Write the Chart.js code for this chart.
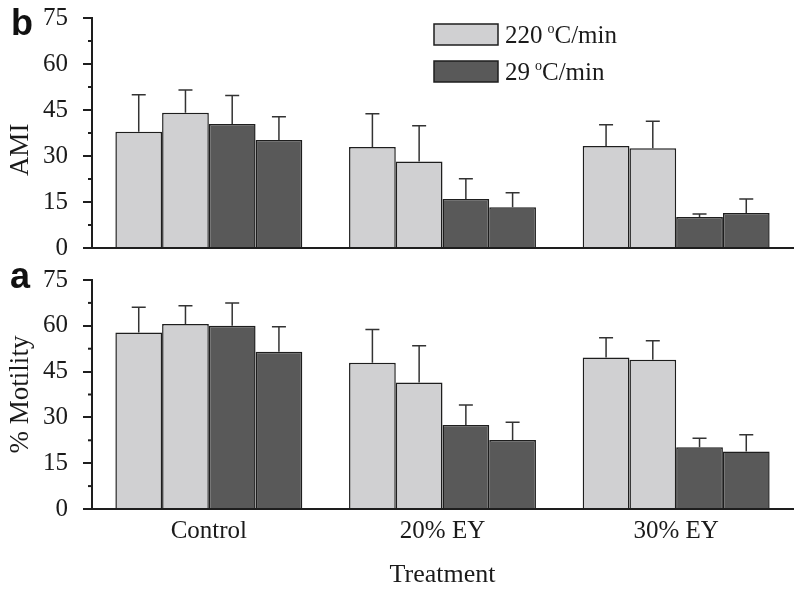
<!DOCTYPE html>
<html>
<head>
<meta charset="utf-8">
<script src="https://cdn.jsdelivr.net/npm/chart.js@4.4.1/dist/chart.umd.min.js"></script>
<style>
  body { margin: 0; background: #fff; }
  #wrap { position: relative; width: 800px; height: 591px; }
  canvas { position: absolute; left: 0; }
  #top { top: 0; }
  #bottom { top: 262px; }
</style>
</head>
<body>
<div id="wrap">
  <canvas id="top" width="800" height="260"></canvas>
  <canvas id="bottom" width="800" height="329"></canvas>
</div>
<script>
const categories = ["Control", "20% EY", "30% EY"];
const seriesLabels = ["220 °C/min", "29 °C/min"];

// panel b: AMI (two bars per cooling rate in each group)
const ami220a = [37.9, 32.9, 33.3];
const ami220b = [44.1, 28.2, 32.5];
const ami29a = [40.4, 16.0, 10.1];
const ami29b = [35.2, 13.3, 11.4];
const amiErr220a = [12.1, 10.9, 6.9];
const amiErr220b = [7.4, 11.7, 8.8];
const amiErr29a = [9.3, 6.6, 1.0];
const amiErr29b = [7.6, 4.7, 4.6];

// panel a: % motility
const mot220a = [57.8, 47.9, 49.6];
const mot220b = [60.6, 41.4, 48.9];
const mot29a = [60.0, 27.5, 20.2];
const mot29b = [51.5, 22.6, 18.8];
const motErr220a = [8.3, 10.9, 6.5];
const motErr220b = [6.0, 12.1, 6.2];
const motErr29a = [7.5, 6.6, 3.0];
const motErr29b = [8.2, 5.8, 5.5];

const yTicks = [0, 15, 30, 45, 60, 75];

const LIGHT = "#d0d0d2";
const DARK = "#595959";
const INK = "#1e1e1e";
const SERIF = '"Liberation Serif", "Times New Roman", serif';

// upward error bars with caps
const errorBars = {
  id: "errorBars",
  afterDatasetsDraw(chart) {
    const ctx = chart.ctx, y = chart.scales.y;
    ctx.save();
    ctx.strokeStyle = "#333";
    ctx.lineWidth = 1.5;
    chart.data.datasets.forEach((ds, i) => {
      chart.getDatasetMeta(i).data.forEach((bar, j) => {
        const yt = y.getPixelForValue(ds.data[j] + ds.err[j]);
        ctx.beginPath();
        ctx.moveTo(bar.x, bar.y);
        ctx.lineTo(bar.x, yt);
        ctx.moveTo(bar.x - 7, yt);
        ctx.lineTo(bar.x + 7, yt);
        ctx.stroke();
      });
    });
    ctx.restore();
  }
};

// short minor ticks half way between the labelled ones
const minorTicks = {
  id: "minorTicks",
  afterDraw(chart) {
    const s = chart.scales.y, ctx = chart.ctx;
    const t = s.ticks.map(k => k.value);
    ctx.save();
    ctx.strokeStyle = INK;
    ctx.lineWidth = 2;
    for (let i = 0; i < t.length - 1; i++) {
      const py = s.getPixelForValue((t[i] + t[i + 1]) / 2);
      ctx.beginPath();
      ctx.moveTo(s.right - 4, py);
      ctx.lineTo(s.right, py);
      ctx.stroke();
    }
    ctx.restore();
  }
};

function panelLetter(text, x, y) {
  return {
    id: "panelLetter",
    afterDraw(chart) {
      const ctx = chart.ctx;
      ctx.save();
      ctx.font = 'bold 36px "Liberation Sans", Arial, sans-serif';
      ctx.fillStyle = "#111";
      ctx.textBaseline = "alphabetic";
      ctx.fillText(text, x, y);
      ctx.restore();
    }
  };
}

// legend inside the top panel, with a raised "o" for the degree sign
const innerLegend = {
  id: "innerLegend",
  afterDraw(chart) {
    const ctx = chart.ctx;
    const items = [chart.data.datasets[0], chart.data.datasets[2]];
    ctx.save();
    items.forEach((ds, i) => {
      const y0 = 24 + i * 37;
      ctx.fillStyle = ds.backgroundColor;
      ctx.fillRect(434, y0, 64, 21);
      ctx.strokeStyle = INK;
      ctx.lineWidth = 1.5;
      ctx.strokeRect(434, y0, 64, 21);
      const parts = ds.label.split("°");
      const base = y0 + 19;
      ctx.fillStyle = "#1a1a1a";
      ctx.textBaseline = "alphabetic";
      let x = 505;
      ctx.font = "25px " + SERIF;
      ctx.fillText(parts[0].trim(), x, base);
      x += ctx.measureText(parts[0].trim()).width + 5;
      ctx.font = "14px " + SERIF;
      ctx.fillText("o", x, base - 10);
      x += ctx.measureText("o").width;
      ctx.font = "25px " + SERIF;
      ctx.fillText(parts[1], x, base);
    });
    ctx.restore();
  }
};

function makeDatasets(a, b, c, d, ea, eb, ec, ed) {
  return [
    { label: seriesLabels[0], data: a, err: ea, backgroundColor: LIGHT },
    { label: seriesLabels[0], data: b, err: eb, backgroundColor: LIGHT },
    { label: seriesLabels[1], data: c, err: ec, backgroundColor: DARK },
    { label: seriesLabels[1], data: d, err: ed, backgroundColor: DARK }
  ].map(ds => Object.assign(ds, { borderColor: INK, borderWidth: 1.5 }));
}

function panelOptions(yTitle, showX, xHeight) {
  return {
    responsive: false,
    animation: false,
    layout: { padding: { top: 18, right: 7, left: 0, bottom: 0 } },
    plugins: { legend: { display: false }, tooltip: { enabled: false } },
    datasets: { bar: { categoryPercentage: 0.8, barPercentage: 1.0 } },
    scales: {
      x: {
        grid: { display: false, drawTicks: false },
        border: { display: true, color: INK, width: 2 },
        ticks: { display: showX, padding: 7, color: "#1a1a1a", font: { family: SERIF, size: 25 } },
        title: {
          display: showX, text: "Treatment", color: "#1a1a1a",
          font: { family: SERIF, size: 26 }, padding: { top: 0, bottom: 0 }
        },
        afterFit: s => { s.height = xHeight; }
      },
      y: {
        min: 0,
        max: 75,
        afterBuildTicks: s => { s.ticks = yTicks.map(v => ({ value: v })); },
        ticks: { padding: 15, color: "#1a1a1a", font: { family: SERIF, size: 25 } },
        grid: { drawOnChartArea: false, drawTicks: true, tickLength: 9, color: INK, lineWidth: 2 },
        border: { display: true, color: INK, width: 2 },
        title: {
          display: true, text: yTitle, color: "#1a1a1a",
          font: { family: SERIF, size: 27 }, padding: { top: 5, bottom: 0 }
        },
        afterFit: s => { s.width = 92; s.paddingTop = 0; s.paddingBottom = 0; }
      }
    }
  };
}

new Chart(document.getElementById("top"), {
  type: "bar",
  data: {
    labels: categories,
    datasets: makeDatasets(ami220a, ami220b, ami29a, ami29b, amiErr220a, amiErr220b, amiErr29a, amiErr29b)
  },
  options: panelOptions("AMI     ", false, 12),
  plugins: [errorBars, minorTicks, innerLegend, panelLetter("b", 11, 35)]
});

new Chart(document.getElementById("bottom"), {
  type: "bar",
  data: {
    labels: categories,
    datasets: makeDatasets(mot220a, mot220b, mot29a, mot29b, motErr220a, motErr220b, motErr29a, motErr29b)
  },
  options: panelOptions("% Motility", true, 82),
  plugins: [errorBars, minorTicks, panelLetter("a", 10, 26)]
});
</script>
</body>
</html>
